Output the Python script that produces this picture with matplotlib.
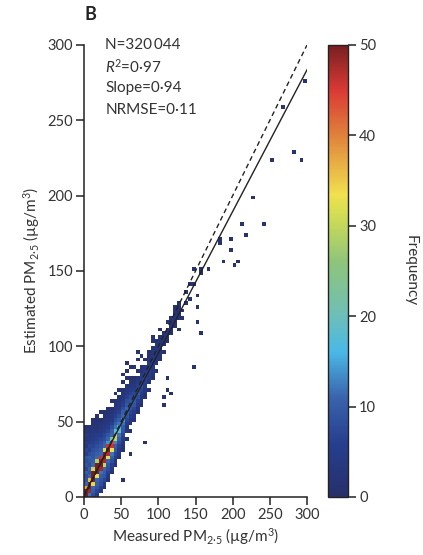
import numpy as np
import matplotlib
matplotlib.use("Agg")
import matplotlib.pyplot as plt
from matplotlib.colors import LinearSegmentedColormap

plt.rcParams['font.family'] = ['Lato', 'DejaVu Sans']
plt.rcParams['mathtext.fontset'] = 'custom'
plt.rcParams['mathtext.rm'] = 'Lato'
plt.rcParams['mathtext.it'] = 'Lato:italic'

# bin sizes of the density grid (ug/m3)
dx = 5.0
dy = 2.5

# dense band: one column per 5 ug/m3 of measured PM2.5,
# counts listed upward from band_y0 in steps of dy
band_x = [2.5, 7.5, 12.5, 17.5, 22.5, 27.5, 32.5, 37.5, 42.5, 47.5,
          52.5, 57.5, 62.5, 67.5, 72.5, 77.5, 82.5, 87.5, 92.5, 97.5,
          102.5, 107.5, 112.5, 117.5, 122.5, 127.5]
band_y0 = [0, 0, 0, 0, 2.5, 5, 10, 15, 20, 25,
           30, 37.5, 42.5, 50, 55, 60, 65, 70, 77.5, 82.5,
           90, 95, 102.5, 107.5, 112.5, 117.5]
band_counts = [
    [50, 50, 38, 11, 9, 8, 10, 7, 9, 8, 9, 6, 7, 4, 5, 3, 4, 2, 1],
    [12, 48, 50, 50, 36, 11, 9, 10, 8, 9, 10, 8, 6, 7, 5, 4, 3, 2, 1],
    [8, 10, 11, 34, 50, 50, 50, 30, 11, 10, 9, 9, 8, 7, 6, 5, 4, 3, 2, 1, 1],
    [5, 7, 9, 10, 11, 33, 50, 50, 50, 28, 11, 10, 9, 8, 7, 6, 5, 3, 2, 2, 1, 1],
    [4, 6, 8, 9, 10, 12, 48, 50, 50, 46, 11, 10, 9, 8, 7, 5, 4, 3, 2, 1, 0, 1],
    [2, 4, 7, 9, 10, 11, 30, 48, 50, 50, 32, 11, 10, 8, 7, 5, 4, 3, 2, 1, 1],
    [2, 4, 6, 8, 9, 11, 32, 47, 50, 46, 14, 11, 9, 7, 5, 4, 3, 2, 1, 1],
    [2, 4, 6, 8, 10, 12, 33, 46, 44, 22, 11, 10, 8, 6, 4, 3, 2, 1, 0, 1],
    [2, 3, 5, 7, 9, 10, 13, 30, 34, 18, 12, 10, 8, 6, 4, 3, 2, 1, 0, 1],
    [1, 3, 4, 6, 8, 10, 12, 18, 16, 12, 10, 8, 6, 4, 3, 2, 1, 0, 1],
    [1, 2, 4, 5, 7, 9, 10, 12, 14, 11, 10, 8, 6, 4, 3, 2, 1, 0, 1],
    [1, 0, 2, 3, 5, 7, 9, 10, 11, 9, 8, 6, 4, 3, 2, 0, 1, 0, 1],
    [1, 0, 2, 3, 5, 7, 9, 10, 9, 8, 6, 4, 3, 2, 1, 0, 0, 1],
    [2, 3, 5, 7, 9, 10, 8, 7, 5, 3, 2, 1, 0, 0, 1],
    [1, 2, 4, 6, 8, 9, 8, 6, 4, 3, 0, 1, 0, 0, 1],
    [1, 2, 3, 5, 7, 8, 7, 5, 4, 2, 1, 0, 0, 1],
    [1, 2, 3, 5, 6, 7, 6, 4, 3, 0, 1],
    [1, 0, 2, 4, 5, 6, 5, 4, 2, 1, 1],
    [1, 2, 3, 4, 5, 4, 3, 2, 1, 0, 1],
    [1, 0, 2, 3, 4, 3, 3, 2, 1],
    [1, 2, 2, 3, 2, 2, 1, 0, 1],
    [1, 0, 2, 3, 2, 1],
    [1, 2, 2, 1, 0, 1],
    [1, 0, 2, 1, 1],
    [1, 1, 2, 0, 1],
    [1, 0, 1, 1],
]

# scattered cells outside the dense band (measured, estimated, frequency)
sparse_meas = [266, 295, 282, 292, 254, 225, 214, 240, 218, 184, 180, 195,
               195, 188, 206, 204, 167, 157, 155, 145, 141, 138, 152, 144,
               152, 129, 122, 116, 152, 155, 145, 93, 73, 58, 50, 113,
               112, 118, 109, 106, 52, 63, 82, 117, 121, 127, 131, 136,
               133, 126, 112, 124, 147]
sparse_est = [259, 277, 229, 224, 224, 199, 181, 181, 173, 171, 168, 171,
              164, 155, 155, 153, 150, 150, 148, 150, 141, 136, 133, 130,
              125, 128, 122, 118, 115, 108, 85, 105, 97, 88, 80, 79,
              72, 69, 60, 65, 10, 29, 35, 112, 115, 120, 123, 128,
              118, 112, 110, 126, 140]
sparse_freq = [2, 2, 1, 1, 1, 1, 1, 1, 1, 2, 1, 1,
               1, 1, 1, 1, 1, 1, 1, 1, 1, 1, 1, 1,
               1, 1, 2, 1, 1, 1, 1, 1, 1, 1, 1, 1,
               1, 1, 1, 1, 1, 1, 1, 2, 2, 1, 1, 1,
               1, 1, 1, 1, 1]

n_label = "N=320\u2009044"
r2_label = "$R$$^2$=0\u00b797"
slope_label = "Slope=0\u00b794"
nrmse_label = "NRMSE=0\u00b711"
fit_slope = 0.94
fit_intercept = 1.5

# build the grid
xedges = np.arange(0, 300 + dx, dx)
yedges = np.arange(0, 300 + dy, dy)
H = np.zeros((len(yedges) - 1, len(xedges) - 1))
for cx, y0, counts in zip(band_x, band_y0, band_counts):
    i = int(cx // dx)
    for k, c in enumerate(counts):
        j = int(round(y0 / dy)) + k
        H[j, i] = max(H[j, i], c)
for mx, ey, c in zip(sparse_meas, sparse_est, sparse_freq):
    i = int(mx // dx)
    j = int(ey // dy)
    H[j, i] = max(H[j, i], c)
Hm = np.ma.masked_where(H <= 0, H)

cmap = LinearSegmentedColormap.from_list("freq", [
    (0.00, "#272f6b"),
    (0.12, "#273f8f"),
    (0.22, "#3a64ad"),
    (0.32, "#4ab8e6"),
    (0.42, "#74c0ae"),
    (0.52, "#8fc47a"),
    (0.62, "#cfdc55"),
    (0.67, "#f1e04f"),
    (0.80, "#e0823c"),
    (0.90, "#db3a35"),
    (1.00, "#7a1f22"),
])

fig = plt.figure(figsize=(4.23, 5.55), dpi=100)
ax = fig.add_axes([84 / 423, 58 / 555, 223 / 423, 452 / 555])
mesh = ax.pcolormesh(xedges, yedges, Hm, cmap=cmap, vmin=0, vmax=50)

xx = np.array([0, 300])
ax.plot(xx, xx, color="#222222", lw=1.0, ls=(0, (3.5, 2.5)))
ax.plot(xx, fit_intercept + fit_slope * xx, color="#222222", lw=1.0)

ax.set_xlim(0, 300)
ax.set_ylim(0, 300)
ax.set_xticks(np.arange(0, 301, 50))
ax.set_yticks(np.arange(0, 301, 50))
for s in ["top", "right"]:
    ax.spines[s].set_visible(False)
for s in ["left", "bottom"]:
    ax.spines[s].set_linewidth(1.1)
    ax.spines[s].set_color("#222222")
ax.tick_params(direction="out", length=6, width=1.1, labelsize=10.5,
               colors="#222222", labelcolor="#333333", pad=2)
ax.set_xlabel("Measured PM$_{\\mathrm{2\u00b75}}$ (\u00b5g/m$^{3}$)",
              fontsize=11, color="#333333", labelpad=3)
ax.set_ylabel("Estimated PM$_{\\mathrm{2\u00b75}}$ (\u00b5g/m$^{3}$)",
              fontsize=11, color="#333333", labelpad=4)

for k, t in enumerate([n_label, r2_label, slope_label, nrmse_label]):
    ax.text(0.095, 1.0 - k * 0.048, t, transform=ax.transAxes,
            fontsize=11, color="#333333", va="center", ha="left")

fig.text(84 / 423, 1 - 15 / 555, "B", fontsize=13, fontweight="bold",
         color="#222222", ha="left", va="center")

cax = fig.add_axes([328 / 423, 58 / 555, 20 / 423, 452 / 555])
cb = fig.colorbar(mesh, cax=cax, ticks=np.arange(0, 51, 10))
cb.outline.set_linewidth(1.0)
cb.outline.set_edgecolor("#222222")
cax.tick_params(direction="out", length=6, width=1.1, labelsize=10.5,
                colors="#222222", labelcolor="#333333", pad=2)
cb.set_label("Frequency", rotation=-90, fontsize=11, color="#333333",
             labelpad=30)

fig.savefig("out.png", dpi=100)
